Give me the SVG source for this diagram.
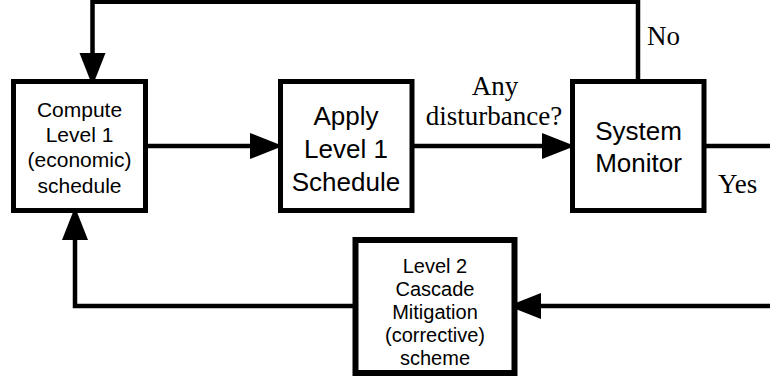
<svg xmlns="http://www.w3.org/2000/svg" width="770" height="377" viewBox="0 0 770 377">
  <style>
    .box { fill: #fff; stroke: #000; stroke-width: 5; }
    .box2 { fill: #fff; stroke: #000; stroke-width: 6; }
    .wire { fill: none; stroke: #000; stroke-width: 4.5; }
    .sans { font-family: "Liberation Sans", Arial, sans-serif; fill: #000; text-anchor: middle; }
    .serif { font-family: "Liberation Serif", "Times New Roman", serif; font-size: 27px; fill: #000; }
  </style>
  <defs>
    <marker id="head" markerUnits="userSpaceOnUse" viewBox="0 -13 33 26" refX="0" refY="0" markerWidth="33" markerHeight="26" orient="auto" overflow="visible">
      <path d="M0,-13 L33,0 L0,13 z" fill="#000"/>
    </marker>
  </defs>

  <!-- connectors -->
  <g id="connectors">
    <path class="wire" d="M145,146 H250" marker-end="url(#head)"/>
    <path class="wire" d="M412,146 H542" marker-end="url(#head)"/>
    <path class="wire" d="M704,146 H772"/>
    <path class="wire" d="M772,306 H541" marker-end="url(#head)"/>
    <path class="wire" d="M355,306 H75 V240" marker-end="url(#head)"/>
    <path class="wire" d="M638,81 V1.75 H92.5 V53" marker-end="url(#head)"/>
    <text class="serif" x="495" y="95" text-anchor="middle">Any</text>
    <text class="serif" x="494" y="125" text-anchor="middle">disturbance?</text>
    <text class="serif" x="647" y="45">No</text>
    <text class="serif" x="718" y="193">Yes</text>
  </g>

  <!-- Level 1 economic scheduling -->
  <g id="compute">
    <rect class="box" x="13.5" y="81.5" width="132" height="129"/>
    <text class="sans" font-size="21" x="79.5" y="117">Compute</text>
    <text class="sans" font-size="21" x="79.5" y="142">Level 1</text>
    <text class="sans" font-size="21" x="79.5" y="167">(economic)</text>
    <text class="sans" font-size="21" x="79.5" y="192.5">schedule</text>
  </g>

  <g id="apply">
    <rect class="box" x="280.5" y="81.5" width="131.5" height="129"/>
    <text class="sans" font-size="26" x="346" y="124.5">Apply</text>
    <text class="sans" font-size="26" x="346" y="157.5">Level 1</text>
    <text class="sans" font-size="26" x="346" y="190.5">Schedule</text>
  </g>

  <g id="monitor">
    <rect class="box" x="572.5" y="81.5" width="131.5" height="129"/>
    <text class="sans" font-size="26" x="638.5" y="140">System</text>
    <text class="sans" font-size="26" x="638.5" y="172">Monitor</text>
  </g>

  <!-- Level 2 corrective scheme -->
  <g id="mitigation">
    <rect class="box2" x="355.5" y="240" width="159" height="133"/>
    <text class="sans" font-size="20" x="435" y="273">Level 2</text>
    <text class="sans" font-size="20" x="435" y="296">Cascade</text>
    <text class="sans" font-size="20" x="435" y="319">Mitigation</text>
    <text class="sans" font-size="20" x="435" y="342">(corrective)</text>
    <text class="sans" font-size="20" x="435" y="365">scheme</text>
  </g>
</svg>
